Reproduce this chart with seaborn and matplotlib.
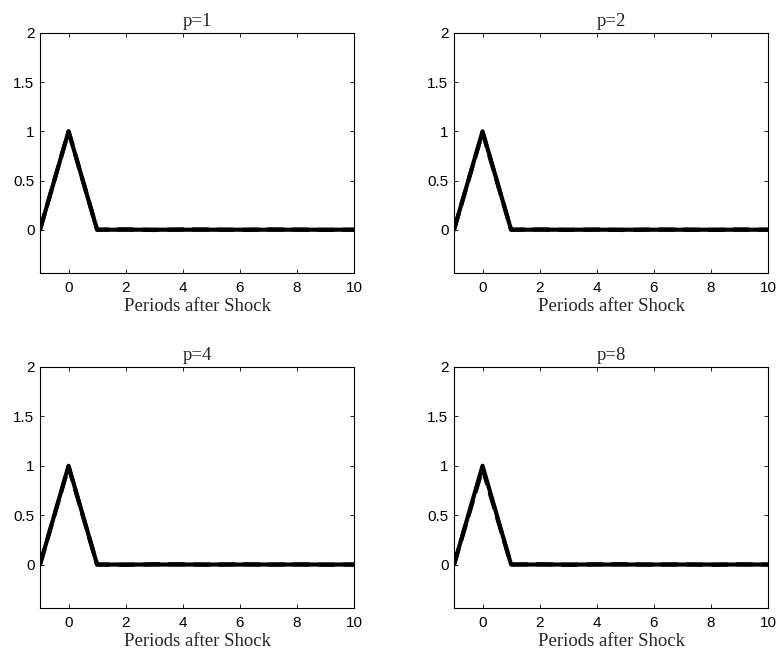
import matplotlib
matplotlib.use("Agg")
import matplotlib.pyplot as plt
import seaborn as sns
import pandas as pd

periods = [-1, 0, 1, 2, 3, 4, 5, 6, 7, 8, 9, 10]
true_response = [0, 1, 0, 0, 0, 0, 0, 0, 0, 0, 0, 0]
est_p1 = [0, 1.0, 0.0, 0.004, -0.003, 0.003, 0.002, -0.002, 0.003, 0.001, -0.002, 0.0]
est_p2 = [0, 0.99, 0.0, 0.003, -0.002, 0.002, -0.003, 0.002, 0.001, -0.002, 0.002, 0.0]
est_p4 = [0, 0.99, 0.0, -0.003, 0.003, 0.002, -0.002, 0.003, -0.001, 0.002, -0.002, 0.0]
est_p8 = [0, 0.97, 0.0, 0.003, -0.003, 0.002, 0.003, -0.002, 0.002, -0.003, 0.002, 0.0]
panel_titles = ["p=1", "p=2", "p=4", "p=8"]
estimates = [est_p1, est_p2, est_p4, est_p8]
xticks = [0, 2, 4, 6, 8, 10]
yticks = [0, 0.5, 1, 1.5, 2]
ytick_labels = ["0", "0.5", "1", "1.5", "2"]

sns.set_theme(style="ticks")
plt.rcParams["font.family"] = ["Liberation Sans", "DejaVu Sans"]

fig = plt.figure(figsize=(7.79, 6.54), dpi=100)
W, H = 779.0, 654.0
boxes = [(40, 33, 354, 273), (454, 33, 768, 273), (40, 367, 354, 608), (454, 367, 768, 608)]

for (l, t, r, b), title, est in zip(boxes, panel_titles, estimates):
    ax = fig.add_axes([l / W, 1 - b / H, (r - l) / W, (b - t) / H])
    df = pd.DataFrame({"Period": periods * 2,
                       "Response": true_response + est,
                       "Series": ["true"] * len(periods) + ["est"] * len(periods)})
    sns.lineplot(data=df, x="Period", y="Response", style="Series",
                 dashes={"true": "", "est": (4, 2)}, color="black",
                 linewidth=3.0, ax=ax, legend=False)
    ax.set_xlim(-1, 10)
    ax.set_ylim(-0.44, 2)
    ax.set_xticks(xticks)
    ax.set_xticklabels([str(v) for v in xticks])
    ax.set_yticks(yticks)
    ax.set_yticklabels(ytick_labels)
    ax.tick_params(direction="in", length=3, width=0.6, top=True, right=True,
                   labelsize=11, pad=6, colors="black")
    ax.tick_params(axis="y", pad=4)
    for s in ax.spines.values():
        s.set_linewidth(0.8)
        s.set_color("black")
    ax.set_title(title, fontsize=13.5, family=["Liberation Serif"], pad=5)
    ax.set_xlabel("Periods after Shock", fontsize=13.5, family=["Liberation Serif"], labelpad=2)
    ax.set_ylabel("")

fig.savefig("out.png", dpi=100)
